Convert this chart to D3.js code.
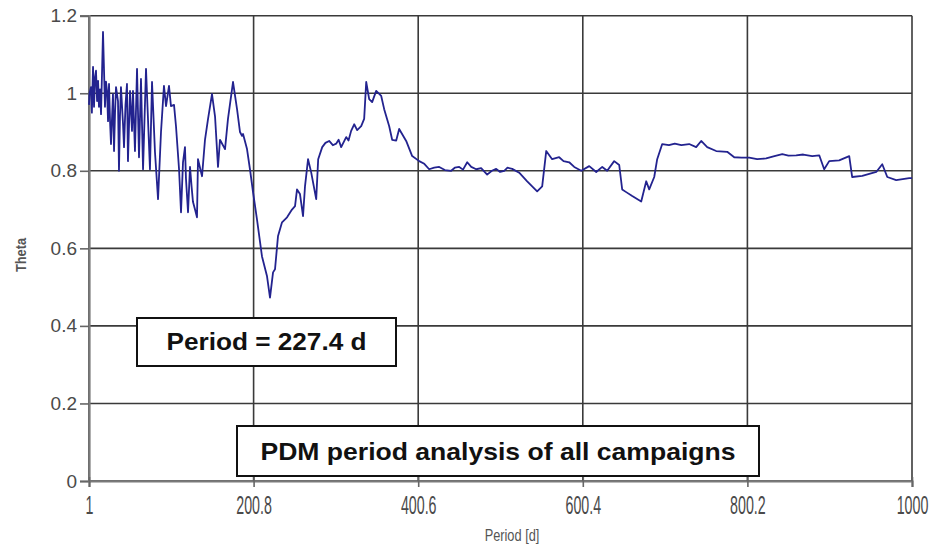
<!DOCTYPE html>
<html><head><meta charset="utf-8">
<script src="https://cdn.jsdelivr.net/npm/d3@7"></script>
<style>
body{margin:0;background:#fff;}
svg{display:block;}
</style></head>
<body><svg id="c" width="938" height="548"></svg>
<script>
// ---- data ----
const periods = [1,1.6,3.4,4.5,5.9,7.1,8.3,9.5,10.8,12.0,13.1,14.4,15.6,18.0,20.4,21.6,22.9,24.1,25.3,26.5,27.7,30.1,31.4,32.6,33.8,36.2,37.4,38.6,39.8,42.3,43.5,45.3,47.1,48.3,50.8,53.2,54.4,56.8,59.3,61.7,64.1,66.6,70.2,75.0,77.5,81.1,84.8,88.4,92.0,94.5,98.1,100.5,104.2,106.6,110.3,112.7,115.1,117.5,118.7,121.2,123.6,125.5,127.2,129.7,132.1,133.3,138.2,141.8,145.5,150.3,154.0,157.6,160.0,166.1,169.7,175.8,180.7,184.3,186.7,188.0,192.8,196.4,200.1,204.9,211.0,217.1,220.7,224.4,226.8,230.4,235.3,241.4,247.4,251.1,253.5,257.1,260.8,263.2,266.9,270.7,276.8,279.2,284.1,288,292.5,297,301.0,304,307.1,313.2,316,319.2,322.9,326.5,331.4,335.0,337.5,341.1,344.7,349.6,355.7,359.3,365.4,369.0,373.9,377.5,386.0,393.3,401.8,408,413.9,420,426.1,433,440.6,445,450.4,455,460.1,465,471.0,477,484.3,490,495.3,500,505.0,509,514.7,523.2,532.9,545.0,551.1,556.0,563.2,571.7,577,583.9,590,598.5,608.2,616.7,624.0,630.0,638.5,644.6,648.2,653.1,660.4,671.3,677.4,681.0,687.1,690.7,696.8,705,712,720,729.5,738.0,744.1,751.4,762.3,775.7,784.2,793,802.4,812,823.0,833,842.5,850,859.4,868,878.9,887.4,893.4,899.5,911.6,923.8,927.4,939.6,956.6,963.9,970.0,980.8,996.6,1000];
const theta = [0.97,1.00,1.016,0.95,1.068,0.965,1.04,1.058,0.98,1.032,0.965,1.01,0.946,1.158,0.965,1.03,1.006,0.928,1.024,0.93,0.869,0.998,0.851,0.95,1.016,0.98,0.80,0.94,1.016,0.92,0.861,0.97,1.024,0.825,1.006,0.903,1.006,0.851,1.063,0.835,1.037,0.804,1.063,0.804,1.029,0.848,0.727,0.90,1.019,0.967,1.019,0.967,0.97,0.915,0.804,0.693,0.822,0.861,0.78,0.693,0.81,0.76,0.72,0.70,0.68,0.83,0.786,0.88,0.934,0.998,0.94,0.81,0.88,0.856,0.934,1.029,0.959,0.90,0.89,0.895,0.856,0.804,0.745,0.675,0.579,0.528,0.473,0.538,0.546,0.631,0.667,0.68,0.70,0.709,0.752,0.74,0.683,0.76,0.83,0.796,0.727,0.83,0.861,0.872,0.877,0.866,0.87,0.88,0.861,0.887,0.878,0.903,0.92,0.905,0.915,0.934,1.029,0.985,0.977,1.006,0.993,0.959,0.915,0.88,0.878,0.908,0.877,0.838,0.825,0.818,0.804,0.808,0.81,0.802,0.80,0.808,0.81,0.803,0.822,0.81,0.804,0.807,0.79,0.80,0.805,0.797,0.80,0.808,0.805,0.795,0.773,0.747,0.76,0.851,0.83,0.835,0.825,0.822,0.81,0.80,0.812,0.797,0.81,0.80,0.825,0.815,0.752,0.745,0.735,0.721,0.773,0.752,0.784,0.83,0.869,0.866,0.87,0.866,0.869,0.861,0.877,0.861,0.851,0.849,0.835,0.834,0.834,0.83,0.832,0.838,0.843,0.839,0.840,0.842,0.838,0.840,0.804,0.825,0.827,0.838,0.784,0.787,0.797,0.817,0.784,0.776,0.781,0.781];
const xTicks = [1,200.8,400.6,600.4,800.2,1000];
const xTickLabels = ["1","200.8","400.6","600.4","800.2","1000"];
const yTicks = [0,0.2,0.4,0.6,0.8,1,1.2];
const yTickLabels = ["0","0.2","0.4","0.6","0.8","1","1.2"];
const xTitle = "Period [d]";
const yTitle = "Theta";
const note1 = "Period = 227.4 d";
const note2 = "PDM period analysis of all campaigns";

// ---- drawing ----
const svg = d3.select("#c");
const L = 89, R = 912, T = 15.7, B = 481;
const x = d3.scaleLinear().domain([1,1000]).range([L,R]);
const y = d3.scaleLinear().domain([0,1.2]).range([B,T]);

// gridlines
const g = svg.append("g");
g.selectAll(".hg").data(yTicks).join("line")
  .attr("x1",L).attr("x2",R).attr("y1",d=>y(d)).attr("y2",d=>y(d))
  .attr("stroke","#3a3a3a").attr("stroke-width",1.6);
g.selectAll(".vg").data(xTicks).join("line")
  .attr("y1",T).attr("y2",B).attr("x1",d=>x(d)).attr("x2",d=>x(d))
  .attr("stroke","#3a3a3a").attr("stroke-width",1.6);

// y axis
const ya = svg.append("g").attr("transform",`translate(${L},0)`)
  .call(d3.axisLeft(y).tickValues(yTicks).tickFormat((d,i)=>yTickLabels[i]).tickSize(9).tickPadding(3));
ya.select(".domain").attr("stroke","#7a7a7a").attr("stroke-width",2.2);
ya.selectAll(".tick line").attr("stroke","#666").attr("stroke-width",1.6);
ya.selectAll(".tick text").attr("fill","#4a4a4a").style("font-family","Arial, 'Liberation Sans', sans-serif").style("font-size","19px");

// x axis
const xa = svg.append("g").attr("transform",`translate(0,${B})`)
  .call(d3.axisBottom(x).tickValues(xTicks).tickFormat((d,i)=>xTickLabels[i]).tickSize(6).tickPadding(0));
xa.select(".domain").attr("stroke","#7a7a7a").attr("stroke-width",2.2);
xa.selectAll(".tick line").attr("stroke","#666").attr("stroke-width",1.6).attr("y1",-4);
xa.selectAll(".tick text").attr("fill","#4a4a4a")
  .style("font-family","Arial, 'Liberation Sans', sans-serif").style("font-size","25px")
  .attr("dy",null).attr("y",null)
  .attr("transform","translate(0,33) scale(0.57,1)");

// axis titles
svg.append("text").attr("transform","translate(512,541) scale(0.8,1)")
  .attr("text-anchor","middle").attr("fill","#555")
  .style("font-family","Arial, 'Liberation Sans', sans-serif").style("font-size","16px").text(xTitle);
svg.append("text").attr("transform","translate(26,255) rotate(-90) scale(0.85,1)")
  .attr("text-anchor","middle").attr("fill","#555").style("font-weight","bold")
  .style("font-family","Arial, 'Liberation Sans', sans-serif").style("font-size","15px").text(yTitle);

// data line
const pts = periods.map((p,i)=>[p,theta[i]]);
svg.append("path").datum(pts)
  .attr("d",d3.line().x(d=>x(d[0])).y(d=>y(d[1])))
  .attr("fill","none").attr("stroke","#23238f").attr("stroke-width",1.8).attr("stroke-linejoin","round");

// annotation boxes
function box(x0,y0,w,h,txt,base,len){
  svg.append("rect").attr("x",x0).attr("y",y0).attr("width",w).attr("height",h)
    .attr("fill","#fff").attr("stroke","#111").attr("stroke-width",2);
  svg.append("text").attr("x",x0+w/2).attr("y",base).attr("text-anchor","middle")
    .attr("textLength",len).attr("lengthAdjust","spacingAndGlyphs")
    .style("font-family","Arial, 'Liberation Sans', sans-serif").style("font-weight","bold")
    .style("font-size","24px").attr("fill","#111").text(txt);
}
box(137,318,259,48,note1,350,200);
box(237,426,522,50,note2,460,475);
</script></body></html>
